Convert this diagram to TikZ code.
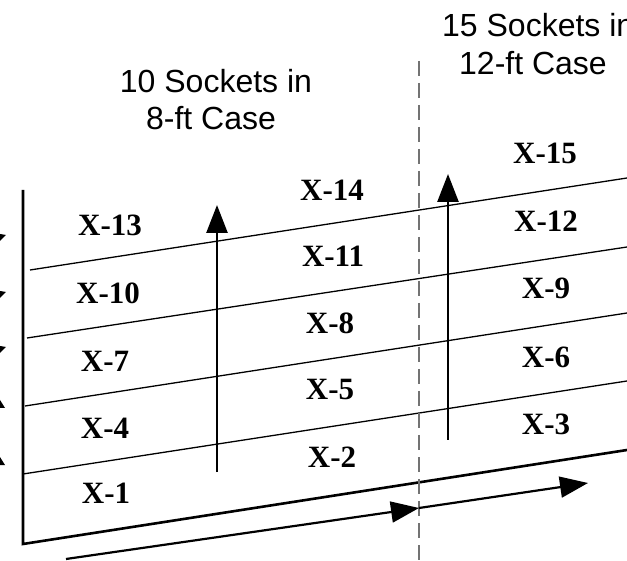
\documentclass[tikz,border=0pt]{standalone}
\usepackage{fontspec}
\setmainfont{Liberation Serif}
\newfontfamily\hv{Liberation Sans}
\usetikzlibrary{arrows.meta}
\begin{document}
\begin{tikzpicture}[x=1pt,y=-1pt,
  lbl/.style={font=\fontsize{31}{36}\selectfont\bfseries, inner sep=0pt},
  ttl/.style={font=\hv\fontsize{32}{38}\selectfont, inner sep=0pt},
  thinline/.style={line width=1.3pt},
  edgeline/.style={line width=2.6pt,line join=miter},
  arr/.style={line width=2.6pt,-{Triangle[length=28pt,width=21pt]}},
  arrlow/.style={line width=2.2pt,-{Triangle[length=28pt,width=21pt]}},
  divline/.style={draw=black!55,line width=1.2pt,dash pattern=on 15pt off 7pt},
  frag/.style={fill=black}]
\useasboundingbox (0,0) rectangle (627,561);
% coordinates
\coordinate (top) at (23,190);
\coordinate (corner) at (23,544);
\coordinate (bright) at (627,450);
\coordinate (L1) at (30,270); \coordinate (R1) at (627,178);
\coordinate (L2) at (27,338); \coordinate (R2) at (627,247);
\coordinate (L3) at (25,406); \coordinate (R3) at (627,313);
\coordinate (L4) at (23,474); \coordinate (R4) at (627,381);
\coordinate (a1s) at (217,472); \coordinate (a1e) at (217,205);
\coordinate (a2s) at (448,440); \coordinate (a2e) at (448,174);
\coordinate (b1s) at (66,559); \coordinate (b1e) at (419,508);
\coordinate (b2e) at (588,483);
\coordinate (d1) at (419,61); \coordinate (d2) at (419,561);
% case outline
\draw[edgeline] (top) -- (corner) -- (bright);
\draw[thinline] (L1) -- (R1);
\draw[thinline] (L2) -- (R2);
\draw[thinline] (L3) -- (R3);
\draw[thinline] (L4) -- (R4);
% divider
\draw[divline] (d1) -- (d2);
% arrows
\draw[arr] (a1s) -- (a1e);
\draw[arr] (a2s) -- (a2e);
\draw[arrlow] (b1s) -- (b1e);
\draw[arrlow] (b1e) -- (b2e);
% cut-off fragments at left edge
\foreach \y in {238,295,350} \fill[frag] (0,\y-4) -- (6,\y-3) -- (0,\y+3) -- cycle;
\foreach \y in {405,462} \fill[frag] (0,\y-5) -- (5,\y+3) -- (0,\y+3) -- cycle;
% titles
\node[ttl,anchor=base] (t1) at (216,93) {10 Sockets in};
\node[ttl,anchor=base] (t2) at (211,130) {8-ft Case};
\node[ttl,anchor=base west] (t3) at (442,37) {15 Sockets in};
\node[ttl,anchor=base west] (t4) at (459,75) {12-ft Case};
% socket labels
\node[lbl] (x13) at (110,225) {X-13};
\node[lbl] (x14) at (332,190) {X-14};
\node[lbl] (x15) at (545,153) {X-15};
\node[lbl] (x10) at (108,293) {X-10};
\node[lbl] (x11) at (333,256) {X-11};
\node[lbl] (x12) at (546,221) {X-12};
\node[lbl] (x7) at (105,361) {X-7};
\node[lbl] (x8) at (330,323) {X-8};
\node[lbl] (x9) at (546,288) {X-9};
\node[lbl] (x4) at (105,428) {X-4};
\node[lbl] (x5) at (330,390) {X-5};
\node[lbl] (x6) at (546,357) {X-6};
\node[lbl] (x1) at (106,493) {X-1};
\node[lbl] (x2) at (332,457) {X-2};
\node[lbl] (x3) at (546,424) {X-3};
\end{tikzpicture}
\end{document}
